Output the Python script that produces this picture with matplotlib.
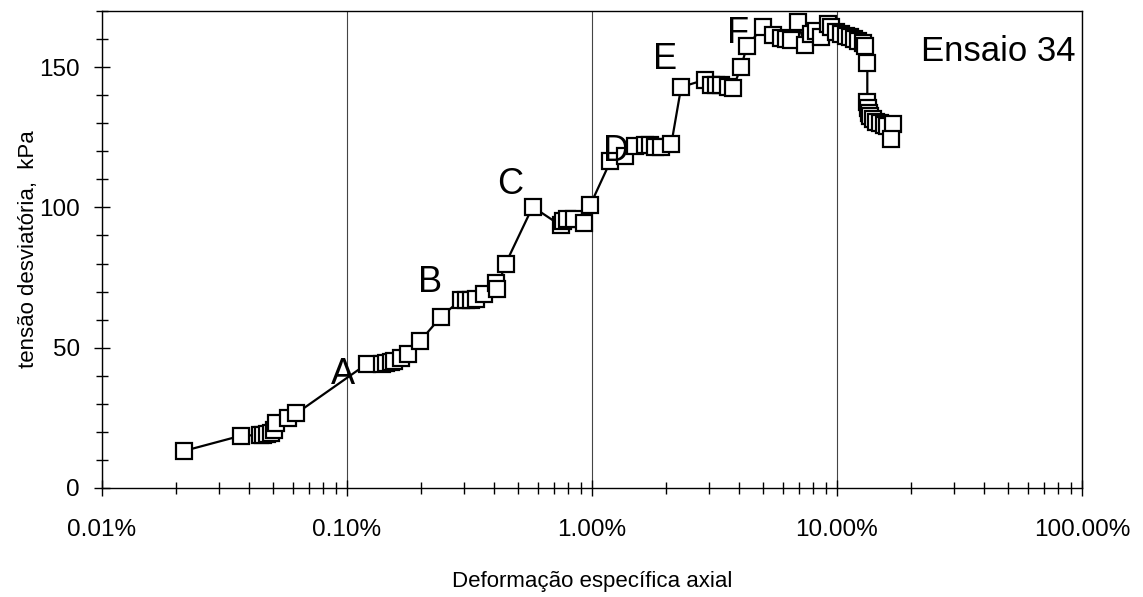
import matplotlib
matplotlib.use('Agg')
import matplotlib.pyplot as plt
from matplotlib.ticker import FuncFormatter, LogLocator, MultipleLocator

plt.rcParams['font.family'] = ['Liberation Sans', 'DejaVu Sans']

# Ensaio 34 - axial strain (%) vs deviator stress (kPa)
strain = [0.0216, 0.0368, 0.0440, 0.0455, 0.0470, 0.0490, 0.0505, 0.0515, 0.0577, 0.0622,
          0.1209, 0.1390, 0.145, 0.151, 0.156, 0.166, 0.1775, 0.1986, 0.2418,
          0.2917, 0.305, 0.3203, 0.3357, 0.362, 0.405, 0.409, 0.4446,
          0.5727, 0.7445, 0.76, 0.7876, 0.841, 0.932, 0.986,
          1.189, 1.369, 1.503, 1.651, 1.73, 1.813, 1.918, 2.107,
          2.313, 2.896, 3.065, 3.21, 3.365, 3.6, 3.766, 4.058, 4.293,
          4.987, 5.478, 5.902, 6.187, 6.48, 6.923, 7.39, 7.82, 8.2, 8.6,
          9.17, 9.43, 9.88, 10.36, 10.85, 11.3, 11.7, 12.2, 12.8, 13.0,
          13.3, 13.3, 13.4, 13.5, 13.7, 14.0, 14.5, 15.0, 15.5, 16.0, 16.9, 16.6]
stress = [13.2, 18.6, 18.9, 19.0, 19.2, 19.6, 20.5, 23.0, 24.8, 26.6,
          44.3, 44.3, 44.6, 44.8, 45.3, 46.5, 47.9, 52.3, 61.0,
          67.1, 67.1, 67.1, 67.3, 69.3, 73.2, 71.0, 80.0,
          100.2, 93.6, 95.2, 95.7, 95.7, 94.6, 101.0,
          116.4, 118.2, 121.8, 122.2, 122.2, 121.6, 121.6, 122.5,
          142.9, 145.5, 143.6, 143.6, 143.6, 142.8, 142.5, 150.0, 157.5,
          164.3, 161.4, 160.4, 160.0, 159.6, 166.1, 157.8, 161.8, 162.9, 160.7,
          165.4, 164.3, 162.5, 161.8, 161.2, 160.7, 160.0, 159.3, 158.6, 157.5,
          151.5, 137.5, 135.5, 133.5, 132.5, 131.5, 130.5, 130.0, 129.5, 129.0, 129.6, 124.5]

# stage labels
stage_names = ['A', 'B', 'C', 'D', 'E', 'F']
stage_x = [0.0963, 0.218, 0.463, 1.25, 1.986, 3.945]
stage_y = [40.3, 73.2, 108.2, 120.0, 152.6, 161.8]

fig = plt.figure(figsize=(11.43, 5.97), dpi=100)
ax = fig.add_axes([0.0892, 0.1826, 0.9466 - 0.0892, 0.9816 - 0.1826])

ax.plot(strain, stress, color='black', lw=1.6, marker='s', markersize=11.5,
        markerfacecolor='white', markeredgecolor='black', markeredgewidth=1.6)

ax.set_xscale('log')
ax.set_xlim(0.01, 100)
ax.set_ylim(0, 170)

ax.xaxis.set_major_locator(LogLocator(base=10))
ax.xaxis.set_minor_locator(LogLocator(base=10, subs=range(2, 10)))
ax.xaxis.set_major_formatter(FuncFormatter(lambda v, p: '{:.2f}%'.format(v)))
ax.yaxis.set_major_locator(MultipleLocator(50))
ax.yaxis.set_minor_locator(MultipleLocator(10))

ax.tick_params(which='major', direction='inout', length=12, width=1, labelsize=17.5)
ax.tick_params(axis='x', which='major', pad=16)
ax.tick_params(axis='y', which='major', pad=10)
ax.tick_params(which='minor', direction='inout', length=9, width=1)
ax.tick_params(axis='y', which='both', right=False)
ax.grid(True, axis='x', which='major', color='#444444', lw=0.8)

for s in ax.spines.values():
    s.set_linewidth(1.0)

ax.set_xlabel('Deformação específica axial', fontsize=16, labelpad=22)
ax.set_ylabel('tensão desviatória,  kPa', fontsize=16, labelpad=0)

for name, x, y in zip(stage_names, stage_x, stage_y):
    ax.text(x, y, name, fontsize=26, ha='center', va='center')
ax.text(45.5, 155.5, 'Ensaio 34', fontsize=25, ha='center', va='center')

fig.savefig('out.png', dpi=100)
